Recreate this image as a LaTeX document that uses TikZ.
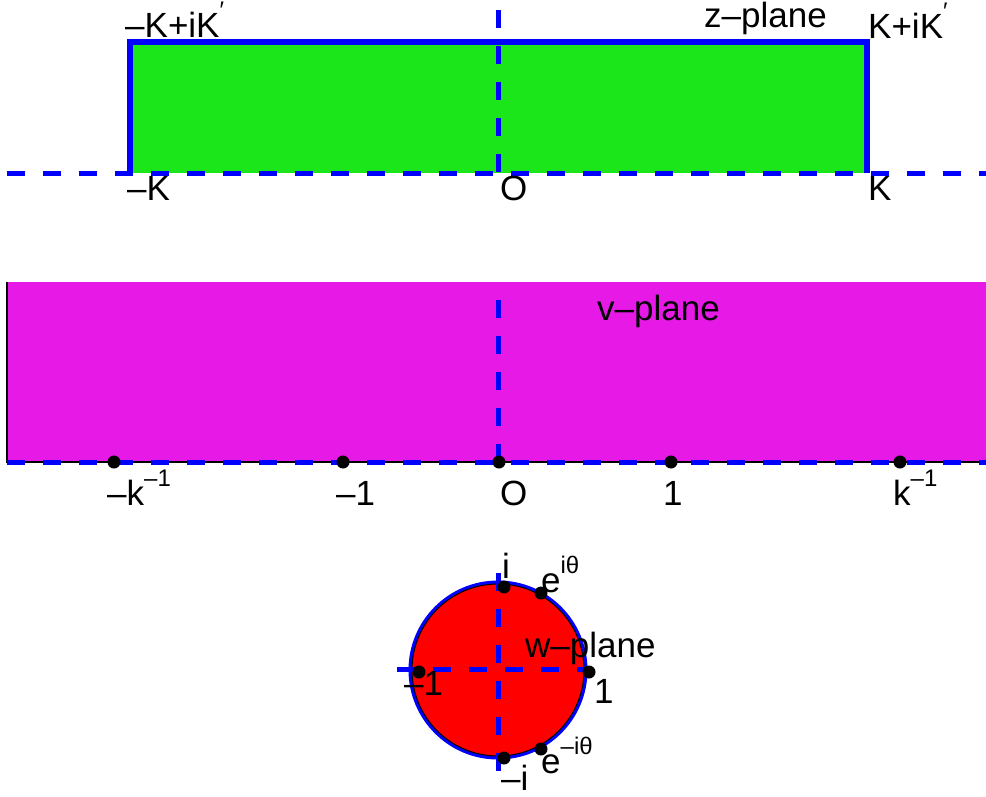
\documentclass[tikz,border=0pt]{standalone}
\usepackage{fontspec}
\setmainfont{Liberation Sans}
\usepackage{tikz}
\usetikzlibrary{positioning, calc}
\definecolor{zgreen}{HTML}{1AE61A}
\definecolor{vmagenta}{HTML}{E619E6}
\definecolor{axblue}{HTML}{0000FF}
\newcommand{\plotfont}{\fontsize{35}{40}\selectfont}
\newcommand{\sups}[1]{\raisebox{19pt}{\fontsize{24}{24}\selectfont #1}}

\begin{document}
\begin{tikzpicture}[
  x=1pt, y=-1pt,
  axis/.style={draw=axblue, line width=5pt, dash pattern=on 18pt off 18pt},
  frame/.style={draw=axblue, line width=6pt},
  dot/.style={circle, fill=black, inner sep=0pt, minimum size=13pt},
  lbl/.style={font=\plotfont, anchor=base west, inner sep=0pt},
]
\useasboundingbox (0,0) rectangle (986,796);

% z-plane
\fill[zgreen] (130,42) rectangle (867,173);
\draw[axis] (498,10) -- (498,173);
\draw[axis] (7,173) -- (986,173);
\draw[frame] (130,173) -- (130,42) -- (867,42) -- (867,173);
\node[lbl] (zlt) at (125,37) {--K+iK\sups{′}};
\node[lbl] (zname) at (704,27) {z--plane};
\node[lbl] (zrt) at (868,38) {K+iK\sups{′}};
\node[lbl] (zlb) at (127,200) {--K};
\node[lbl] (zo) at (500,200) {O};
\node[lbl] (zrb) at (868,200) {K};

% v-plane
\fill[vmagenta] (7,282) rectangle (986,462);
\draw[black, line width=1.5pt] (7,282) -- (7,462) -- (986,462);
\draw[axis] (498,300) -- (498,462);
\draw[axis] (7,462) -- (986,462);
\node[dot] (vmk) at (114,462) {};
\node[dot] (vmone) at (343,462) {};
\node[dot] (vo) at (499,462) {};
\node[dot] (vone) at (671,462) {};
\node[dot] (vk) at (900,462) {};
\node[lbl] (vmkl) at (107,505) {--k\sups{--1}};
\node[lbl] (vmonel) at (336,505) {--1};
\node[lbl] (vol) at (500,505) {O};
\node[lbl] (vonel) at (663,505) {1};
\node[lbl] (vkl) at (893,505) {k\sups{--1}};
\node[lbl] (vname) at (597,320) {v--plane};

% w-plane
\draw[axblue, line width=4pt] (498,670) circle (87.5);
\filldraw[fill=red, draw=black, line width=1pt] (498,670) circle (86);
\draw[axis] (397,669) -- (585,669);
\draw[axis] (498,573) -- (498,772);
\node[dot] (wi) at (504,587) {};
\node[dot] (weit) at (541,593) {};
\node[dot] (wone) at (589,672) {};
\node[dot] (wmone) at (419,672) {};
\node[dot] (wmi) at (504,758) {};
\node[dot] (wemit) at (541,749) {};
\node[lbl] (wil) at (502,578) {i};
\node[lbl] (weitl) at (541,592) {e\sups{iθ}};
\node[lbl] (wname) at (525,657) {w--plane};
\node[lbl] (wmonel) at (404,695) {--1};
\node[lbl] (wonel) at (594,703) {1};
\node[lbl] (wmil) at (501,790) {--i};
\node[lbl] (wemitl) at (541,773) {e\sups{--iθ}};

\end{tikzpicture}
\end{document}
